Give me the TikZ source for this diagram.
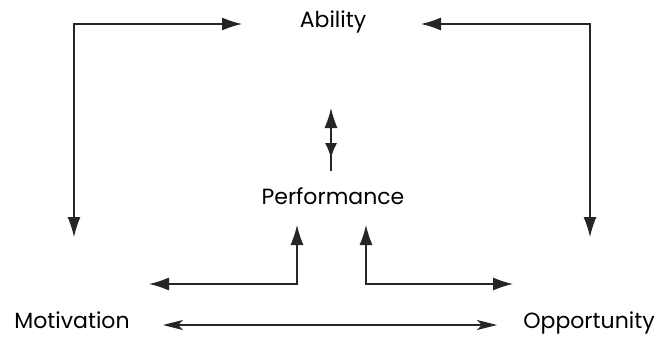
\documentclass[tikz,border=0pt]{standalone}
\usepackage{fontspec}
\setmainfont{Poppins}
\usetikzlibrary{arrows.meta}
\tikzset{
  lbl/.style={anchor=base, inner sep=0pt, font=\fontsize{22}{26}\selectfont},
  conn/.style={line width=1.2pt, draw=black!85},
  tip/.style={-{Latex[length=20pt,width=13pt]}},
  smalltip/.style={-{Latex[length=15pt,width=12pt]}},
  tips/.style={{Latex[length=20pt,width=13pt]}-{Latex[length=20pt,width=13pt]}},
  slimtips/.style={{Stealth[length=20pt,width=10pt,inset=5pt]}-{Stealth[length=20pt,width=10pt,inset=5pt]}}
}
\begin{document}
\begin{tikzpicture}[x=1pt,y=-1pt]
\useasboundingbox (0,0) rectangle (659,337);
% labels
\node[lbl] (ability) at (333,28) {Ability};
\node[lbl] (perf) at (333,204) {Performance};
\node[lbl] (motiv) at (72,328) {Motivation};
\node[lbl] (opp) at (589,328) {Opportunity};
% connector end points
\coordinate (aL) at (242,24);
\coordinate (aR) at (421,24);
\coordinate (mTop) at (74,237);
\coordinate (oTop) at (590,237);
\coordinate (abBot) at (331,108);
\coordinate (pfTop) at (331,171);
\coordinate (pfDn) at (331,158);
\coordinate (pfMid) at (331,132);
\coordinate (pfMid2) at (331,140);
\coordinate (pL) at (297,225);
\coordinate (pR) at (366,225);
\coordinate (mR) at (149,284);
\coordinate (oL) at (513,284);
\coordinate (mB) at (163,325);
\coordinate (oB) at (497,325);
% connectors
\draw[conn,tips] (mTop) |- (aL);
\draw[conn,tips] (oTop) |- (aR);
\draw[conn] (pfMid) -- (pfTop);
\draw[conn,tip] (pfMid) -- (abBot);
\draw[conn,smalltip] (pfMid2) -- (pfDn);
\draw[conn,tips] (mR) -| (pL);
\draw[conn,tips] (oL) -| (pR);
\draw[conn,slimtips] (mB) -- (oB);
\end{tikzpicture}
\end{document}
